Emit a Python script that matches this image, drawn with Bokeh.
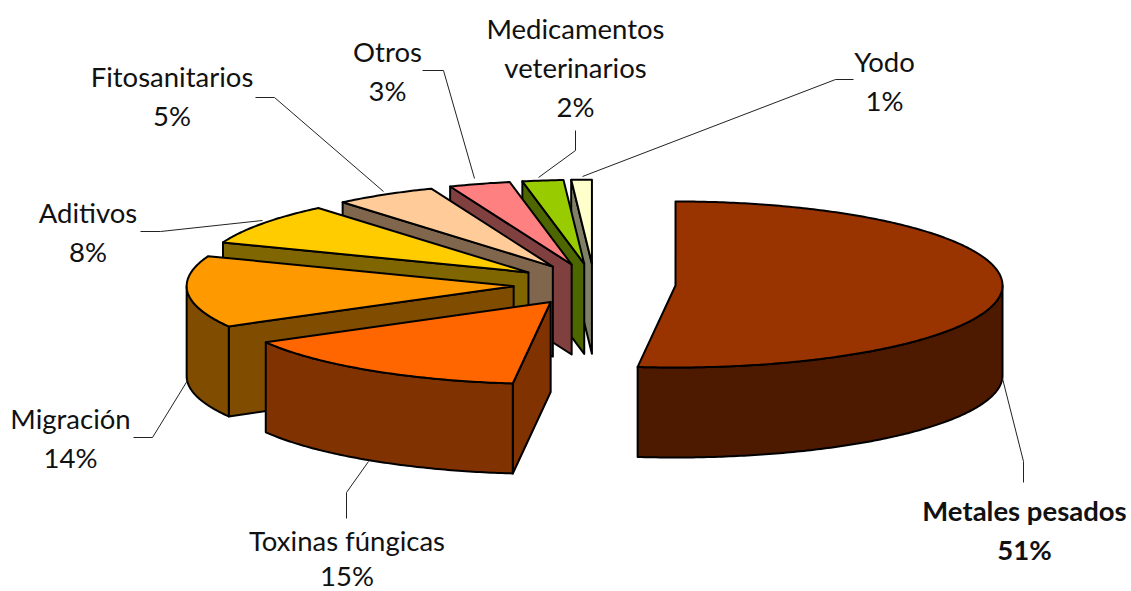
import numpy as np
from bokeh.plotting import figure
from bokeh.models import Range1d
from bokeh.core.properties import value
from bokeh.embed import file_html
from bokeh.resources import INLINE

# data
categories = ["Metales pesados", "Toxinas fúngicas", "Migración", "Aditivos",
              "Fitosanitarios", "Otros", "Medicamentos veterinarios", "Yodo"]
shares = [51, 15, 14, 8, 5, 3, 2, 1]
tick_labels = ["51%", "15%", "14%", "8%", "5%", "3%", "2%", "1%"]

# styles
top_colors = ["#993300", "#ff6600", "#ff9900", "#ffcc00", "#ffcc99", "#ff8080", "#99cc00", "#ffffcc"]
side_colors = ["#4d1a00", "#803300", "#804d00", "#806600", "#80664d", "#804040", "#4d6600", "#808066"]

# layout (page pixels)
CX, CY, RX, RY_BACK, RY_FRONT, DEPTH, EXPLODE = 594, 284, 327, 84, 82, 90, 0.248
WARP = np.radians(1.2)   # slight perspective at the front of the pie
FONT = "Lato"
SIZE = "27.5px"
label_lines = [
    (["Metales pesados", "51%"], 1024, 509.5, 39, "bold"),
    (["Toxinas fúngicas", "15%"], 346.5, 539.5, 35, "normal"),
    (["Migración", "14%"], 70, 417.5, 39, "normal"),
    (["Aditivos", "8%"], 87.5, 211.5, 39, "normal"),
    (["Fitosanitarios", "5%"], 171.5, 75.5, 39, "normal"),
    (["Otros", "3%"], 387, 50.5, 39, "normal"),
    (["Medicamentos", "veterinarios", "2%"], 575, 28, 39, "normal"),
    (["Yodo", "1%"], 884, 60.5, 39, "normal"),
]
leaders = [
    ([1002, 1023, 1023], [378, 461, 482]),
    ([368, 346, 346], [461, 492, 518]),
    ([187, 152, 133], [380, 437, 437]),
    ([262, 160, 140], [220, 231, 231]),
    ([383, 274, 255], [191, 97, 97]),
    ([474, 443, 422], [178, 70, 70]),
    ([538, 575, 575], [177, 150, 130]),
    ([582, 835, 853], [176, 79, 79]),
]

p = figure(width=1131, height=591, output_backend="svg", toolbar_location=None,
           x_range=Range1d(0, 1131), y_range=Range1d(591, 0), min_border=0,
           outline_line_color=None, background_fill_color="white",
           border_fill_color="white")
p.axis.visible = False
p.grid.visible = False

def project(ox, oy, t):
    t = np.asarray(t, dtype=float)
    c = np.cos(t)
    phi = t + WARP * np.maximum(0, -c)
    cp = np.cos(phi)
    ry = np.where(cp > 0, RY_BACK, RY_FRONT)
    return ox + RX * np.sin(phi), oy - ry * cp

def rim(ox, oy, a, b):
    n = max(3, int(abs(b - a) * 90))
    return project(ox, oy, np.linspace(a, b, n))

total = sum(shares)
edges = 2 * np.pi * np.cumsum([0] + shares) / total
LW = 2

# painter's order: back slices first, largest slice last
for i in range(len(shares) - 1, -1, -1):
    a, b = edges[i], edges[i + 1]
    mid = (a + b) / 2
    ox = CX + EXPLODE * RX * np.sin(mid)
    oy = CY - EXPLODE * RY_BACK * np.cos(mid)
    top_x, top_y = rim(ox, oy, a, b)
    kw = dict(fill_color=side_colors[i], line_color="black", line_width=LW, line_join="round")
    # radial wall at the start of the slice
    if np.sin(a) < -1e-6:
        ex, ey = project(ox, oy, a)
        ex, ey = float(ex), float(ey)
        p.patch([ox, ex, ex, ox], [oy, ey, ey + DEPTH, oy + DEPTH], **kw)
    # outer wall where the rim faces the viewer
    lo, hi = max(a, np.pi / 2), min(b, 3 * np.pi / 2)
    if hi > lo:
        wx, wy = rim(ox, oy, lo, hi)
        p.patch(np.r_[wx, wx[::-1]], np.r_[wy, wy[::-1] + DEPTH], **kw)
    p.patch(np.r_[ox, top_x], np.r_[oy, top_y], fill_color=top_colors[i],
            line_color="black", line_width=LW, line_join="round")

for lx, ly in leaders:
    p.line(lx, ly, line_color="#222222", line_width=1)

for lines, x, y, gap, weight in label_lines:
    p.text([x] * len(lines), [y + gap * k for k in range(len(lines))], text=lines,
           text_font=value(FONT), text_font_size=value(SIZE), text_font_style=weight,
           text_align="center", text_baseline="middle", text_color="#111111")

open("out.html", "w").write(file_html(p, INLINE))
